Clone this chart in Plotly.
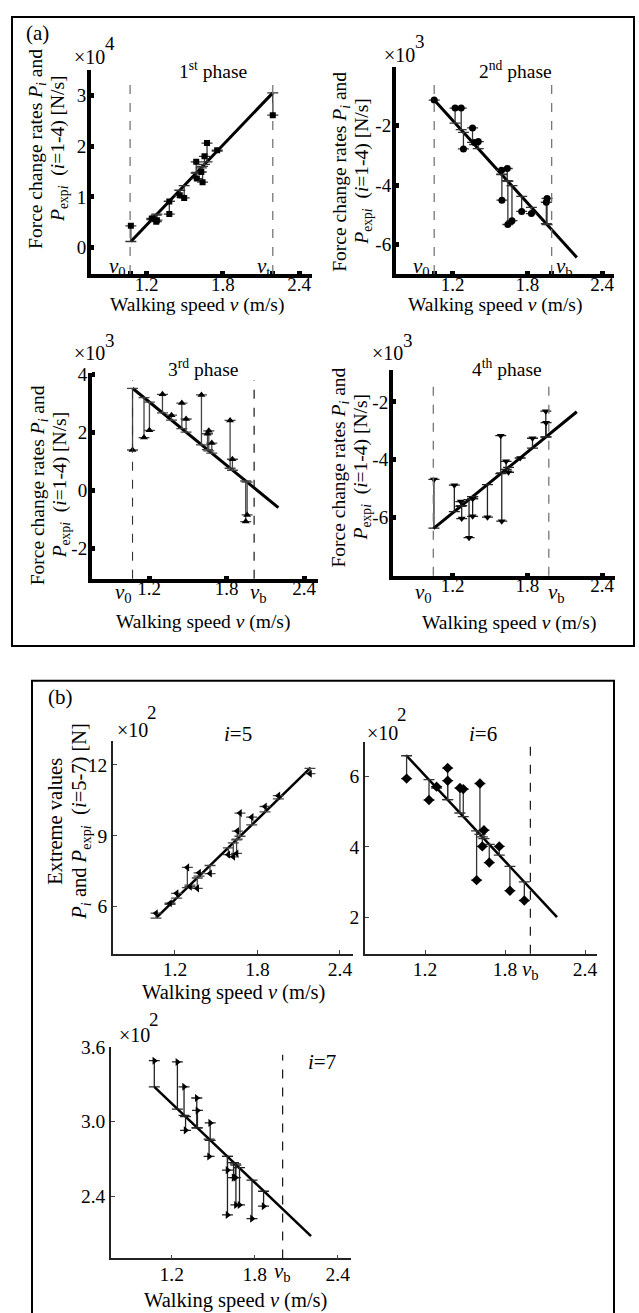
import plotly.graph_objects as go

W, H = 639, 1313
SERIF = "Liberation Serif"


def px(x):
    return x / W


def py(y):
    return 1 - y / H


# ---------------- data ----------------
# (a) 1st phase, values x10^4 N/s
p1_v = [1.075, 1.24, 1.275, 1.28, 1.378, 1.378, 1.46, 1.495, 1.59, 1.595, 1.63, 1.64, 1.655, 1.675, 1.755, 2.193]
p1_exp = [0.43, 0.575, 0.51, 0.54, 0.91, 0.66, 1.03, 0.98, 1.69, 1.36, 1.49, 1.29, 1.80, 2.06, 1.92, 2.61]
p1_model = [0.12, 0.55, 0.64, 0.66, 0.91, 0.91, 1.13, 1.22, 1.47, 1.48, 1.57, 1.60, 1.64, 1.69, 1.90, 3.05]
p1_line_v = [1.075, 2.193]
p1_line_p = [0.12, 3.05]
p1_v0, p1_vt = 1.069, 2.193

# (a) 2nd phase, x10^3 N/s
p2_v = [1.051, 1.219, 1.268, 1.286, 1.359, 1.376, 1.405, 1.592, 1.638, 1.595, 1.643, 1.676, 1.754, 1.832, 1.952, 1.958]
p2_exp = [-1.13, -1.40, -1.40, -2.78, -2.07, -2.56, -2.53, -3.50, -3.44, -4.51, -5.33, -5.20, -4.89, -4.96, -4.58, -4.45]
p2_model = [-1.13, -1.91, -2.13, -2.22, -2.56, -2.63, -2.77, -3.63, -3.85, -3.65, -3.87, -4.02, -4.38, -4.75, -5.30, -5.33]
p2_line_v = [1.051, 2.197]
p2_line_p = [-1.13, -6.44]
p2_v0, p2_vb = 1.051, 1.995

# (a) 3rd phase, x10^3 N/s
p3_v = [1.071, 1.16, 1.202, 1.303, 1.373, 1.453, 1.486, 1.605, 1.662, 1.652, 1.685, 1.827, 1.845, 1.959, 1.948]
p3_exp = [1.39, 1.82, 2.07, 3.31, 2.59, 3.01, 2.46, 3.29, 2.05, 1.95, 1.63, 2.41, 1.07, -0.85, -1.08]
p3_model = [3.52, 3.20, 3.04, 2.67, 2.42, 2.13, 2.01, 1.57, 1.36, 1.40, 1.28, 0.76, 0.69, 0.28, 0.32]
p3_line_v = [1.071, 2.201]
p3_line_p = [3.52, -0.60]
p3_v0, p3_vb = 1.071, 2.013

# (a) 4th phase, x10^3 N/s
p4_v = [1.049, 1.213, 1.265, 1.272, 1.331, 1.36, 1.36, 1.479, 1.586, 1.594, 1.629, 1.648, 1.742, 1.841, 1.948, 1.95]
p4_exp = [-4.69, -4.89, -5.46, -6.05, -6.71, -5.36, -5.97, -6.00, -3.17, -6.14, -4.06, -4.44, -3.95, -3.26, -2.32, -2.72]
p4_model = [-6.38, -5.81, -5.62, -5.60, -5.39, -5.29, -5.29, -4.87, -4.49, -4.46, -4.34, -4.27, -3.94, -3.60, -3.22, -3.21]
p4_line_v = [1.044, 2.197]
p4_line_p = [-6.40, -2.34]
p4_v0, p4_vb = 1.044, 1.972

# (b) i=5, x10^2 N
p5_v = [1.062, 1.164, 1.212, 1.290, 1.309, 1.375, 1.362, 1.455, 1.588, 1.624, 1.648, 1.673, 1.653, 1.758, 1.855, 1.952, 2.182]
p5_exp = [5.72, 6.14, 6.56, 7.66, 6.84, 7.43, 6.77, 7.40, 8.20, 8.11, 8.25, 9.96, 9.20, 9.79, 10.24, 10.70, 11.63]
p5_model = [5.51, 6.09, 6.36, 6.80, 6.91, 7.29, 7.21, 7.74, 8.49, 8.70, 8.83, 8.98, 8.86, 9.46, 10.01, 10.56, 11.86]
p5_line_v = [1.067, 2.187]
p5_line_p = [5.54, 11.89]

# (b) i=6, x10^2 N
p6_v = [1.062, 1.23, 1.287, 1.37, 1.37, 1.462, 1.487, 1.612, 1.587, 1.642, 1.63, 1.682, 1.757, 1.837, 1.945]
p6_exp = [5.94, 5.33, 5.71, 6.24, 5.88, 5.67, 5.64, 5.80, 3.05, 4.47, 4.01, 3.55, 4.01, 2.75, 2.47]
p6_model = [6.59, 5.91, 5.67, 5.34, 5.34, 4.96, 4.86, 4.35, 4.45, 4.23, 4.28, 4.07, 3.76, 3.44, 3.00]
p6_line_v = [1.057, 2.19]
p6_line_p = [6.61, 2.00]
p6_vb = 1.99

# (b) i=7, x10^2 N
p7_v = [1.074, 1.241, 1.289, 1.30, 1.381, 1.386, 1.478, 1.47, 1.603, 1.647, 1.66, 1.603, 1.664, 1.69, 1.78, 1.864]
p7_exp = [3.49, 3.48, 3.28, 2.93, 3.19, 3.09, 2.99, 2.72, 2.61, 2.55, 2.55, 2.25, 2.33, 2.33, 2.22, 2.32]
p7_model = [3.28, 3.10, 3.05, 3.04, 2.95, 2.95, 2.85, 2.86, 2.72, 2.67, 2.66, 2.72, 2.65, 2.63, 2.53, 2.44]
p7_line_v = [1.074, 2.207]
p7_line_p = [3.28, 2.08]
p7_vb = 2.002

x_ticks = [1.2, 1.8, 2.4]
x_ticktext = ["1.2", "1.8", "2.4"]

# ---------------- figure ----------------
fig = go.Figure()


def add_panel(n, v, exp, model, line_v, line_p, symbol, lw, ecolor, msize=7):
    xa = "x" if n == 1 else f"x{n}"
    ya = "y" if n == 1 else f"y{n}"
    up = [max(m - e, 0) for e, m in zip(exp, model)]
    dn = [max(e - m, 0) for e, m in zip(exp, model)]
    fig.add_trace(go.Scatter(x=line_v, y=line_p, mode="lines",
                             line=dict(color="black", width=lw),
                             xaxis=xa, yaxis=ya, hoverinfo="skip"))
    fig.add_trace(go.Scatter(x=v, y=exp, mode="markers",
                             marker=dict(symbol=symbol, size=msize, color="black"),
                             error_y=dict(type="data", symmetric=False, array=up,
                                          arrayminus=dn, color=ecolor,
                                          thickness=1.3, width=5.5),
                             xaxis=xa, yaxis=ya))


add_panel(1, p1_v, p1_exp, p1_model, p1_line_v, p1_line_p, "square", 3, "#333", 6)
add_panel(2, p2_v, p2_exp, p2_model, p2_line_v, p2_line_p, "circle", 3, "#333", 7)
add_panel(3, p3_v, p3_exp, p3_model, p3_line_v, p3_line_p, "triangle-up", 3, "#444", 7)
add_panel(4, p4_v, p4_exp, p4_model, p4_line_v, p4_line_p, "triangle-down", 3, "#222", 7)
add_panel(5, p5_v, p5_exp, p5_model, p5_line_v, p5_line_p, "triangle-left", 2.5, "#444", 7)
add_panel(6, p6_v, p6_exp, p6_model, p6_line_v, p6_line_p, "diamond", 2.5, "#333", 8)
add_panel(7, p7_v, p7_exp, p7_model, p7_line_v, p7_line_p, "triangle-right", 2.5, "#222", 7)


def thick_axes(xdom, ydom, xr, yr, xtv, xtt, ytv, ytt, anchor_x, anchor_y):
    common = dict(showline=True, linewidth=4, linecolor="black",
                  ticks="inside", ticklen=3, tickwidth=5, tickcolor="black",
                  showgrid=False, zeroline=False, fixedrange=True,
                  tickfont=dict(family=SERIF, size=19, color="black"))
    xa = dict(domain=[px(xdom[0]), px(xdom[1])], range=xr, anchor=anchor_y,
              tickvals=xtv, ticktext=xtt, ticklabelstandoff=-10, **common)
    ya = dict(domain=[py(ydom[1]), py(ydom[0])], range=yr, anchor=anchor_x,
              tickvals=ytv, ticktext=ytt, ticklabelstandoff=-3, **common)
    return xa, ya


def thin_axes(xdom, ydom, xr, yr, ytv, ytt, anchor_x, anchor_y):
    common = dict(showline=True, linewidth=1.5, linecolor="#222",
                  ticks="inside", ticklen=4, tickwidth=1.2, tickcolor="#444",
                  showgrid=False, zeroline=False, fixedrange=True,
                  tickfont=dict(family=SERIF, size=19.5, color="black"))
    xa = dict(domain=[px(xdom[0]), px(xdom[1])], range=xr, anchor=anchor_y,
              tickvals=x_ticks, ticktext=x_ticktext, ticklabelstandoff=-3, **common)
    ya = dict(domain=[py(ydom[1]), py(ydom[0])], range=yr, anchor=anchor_x,
              tickvals=ytv, ticktext=ytt, **common)
    return xa, ya


axes = {}
axes["xaxis"], axes["yaxis"] = thick_axes(
    (91, 312), (60, 266), [0.761, 2.502], [-0.52, 3.51],
    [p1_v0, 1.2, 1.8, p1_vt, 2.4], ["", "1.2", "1.8", "", "2.4"],
    [0, 1, 2, 3], ["0", "1", "2", "3"], "x", "y")
axes["xaxis2"], axes["yaxis2"] = thick_axes(
    (396, 614), (57, 266), [0.744, 2.496], [-7.0, 0.0],
    [p2_v0, 1.2, 1.8, p2_vb, 2.4], ["", "1.2", "1.8", "", "2.4"],
    [-6, -4, -2], ["-6", "-4", "-2"], "x2", "y2")
axes["xaxis3"], axes["yaxis3"] = thick_axes(
    (92, 318), (366, 573), [0.757, 2.508], [-3.05, 4.04],
    x_ticks, x_ticktext,
    [-2, 0, 2, 4], ["-2", "0", "2", "4"], "x3", "y3")
axes["xaxis4"], axes["yaxis4"] = thick_axes(
    (393, 615), (363, 570), [0.72, 2.504], [-8.03, -0.9],
    x_ticks, x_ticktext,
    [-6, -4, -2], ["-6", "-4", "-2"], "x4", "y4")
axes["xaxis5"], axes["yaxis5"] = thin_axes(
    (113, 353), (737, 951), [0.749, 2.495], [4.0, 13.0],
    [6, 9, 12], ["6", "9", "12"], "x5", "y5")
axes["xaxis6"], axes["yaxis6"] = thin_axes(
    (365, 597), (738, 951), [0.75, 2.49], [0.955, 6.97],
    [2, 4, 6], ["2", "4", "6"], "x6", "y6")
axes["xaxis7"], axes["yaxis7"] = thin_axes(
    (111, 351), (1045, 1258), [0.761, 2.496], [1.9, 3.6],
    [2.4, 3.0, 3.6], ["2.4", "3.0", "3.6"], "x7", "y7")

# ---------------- shapes ----------------
shapes = [
    dict(type="rect", xref="paper", yref="paper", x0=px(12), x1=px(634), y0=py(641), y1=py(7),
         line=dict(color="black", width=2), fillcolor="rgba(0,0,0,0)"),
    dict(type="rect", xref="paper", yref="paper", x0=px(32), x1=px(614), y0=py(1318), y1=py(676),
         line=dict(color="black", width=2), fillcolor="rgba(0,0,0,0)"),
]


def vline(n, xv, top, color="#777", width=1.3):
    xr = "x" if n == 1 else f"x{n}"
    yr = "y domain" if n == 1 else f"y{n} domain"
    return dict(type="line", xref=xr, yref=yr, x0=xv, x1=xv, y0=0, y1=top,
                line=dict(color=color, width=width, dash="dash"))


shapes += [
    vline(1, p1_v0, 0.966), vline(1, p1_vt, 0.966),
    vline(2, p2_v0, 0.952), vline(2, p2_vb, 0.952),
    vline(3, p3_v0, 0.966, "#333", 1.1), vline(3, p3_vb, 0.966, "black", 1.1),
    vline(4, p4_v0, 0.957), vline(4, p4_vb, 0.957),
    vline(6, p6_vb, 0.983, "black", 1.1),
    vline(7, p7_vb, 0.964, "black", 1.1),
]

# ---------------- annotations ----------------
ann = []


def text(x, y, s, size=18, xanchor="center", yanchor="middle", angle=0, xref="paper", xshift=0):
    ann.append(dict(x=x, y=py(y), xref=xref, yref="paper", text=s, showarrow=False,
                    xanchor=xanchor, yanchor=yanchor, textangle=angle, xshift=xshift,
                    font=dict(family=SERIF, size=size, color="black")))


YA1 = "Force change rates <i>P</i><sub><i>i</i></sub> and"
YA2 = "<i>P</i><sub>exp<i>i</i></sub>\u00a0\u00a0(<i>i</i>=1-4) [N/s]"
YB1 = "Extreme values"
YB2 = "<i>P</i><sub><i>i</i></sub> and <i>P</i><sub>exp<i>i</i></sub>\u00a0\u00a0(<i>i</i>=5-7) [N]"
XT = "Walking speed <i>v</i> (m/s)"

# panel labels
text(px(24), 23, "(a)", 21, xanchor="left")
text(px(46), 692, "(b)", 21, xanchor="left")

# multipliers
for (xl, yc, e, ye) in [(72, 47, "4", 34), (382, 45, "3", 32), (72, 346, "3", 333),
                        (370, 346, "3", 333)]:
    text(px(xl), yc, "\u00d710", 20, xanchor="left")
    text(px(xl + 31), ye, e, 19, xanchor="left")
for (xl, yc, e, ye) in [(115, 726, "2", 708), (365, 729, "2", 710), (117, 1033, "2", 1017)]:
    text(px(xl), yc, "\u00d710", 20, xanchor="left")
    text(px(xl + 30), ye, e, 19, xanchor="left")

# phase titles
text(px(213), 60, "1<sup>st</sup> phase", 19.5)
text(px(515), 60, "2<sup>nd</sup> phase", 19.5)
text(px(203), 361, "3<sup>rd</sup> phase", 19.5)
text(px(507), 361, "4<sup>th</sup> phase", 19.5)
text(px(238), 730, "<i>i</i>=5", 21)
text(px(483), 730, "<i>i</i>=6", 21)
text(px(322), 1060, "<i>i</i>=7", 21)

# y titles (two rotated lines each)
for (xc1, xc2, yc) in [(37, 59, 140), (341, 363, 163), (39, 61, 479), (340, 362, 461)]:
    text(px(xc1), yc, YA1, 19.5, angle=-90)
    text(px(xc2), yc, YA2, 19.5, angle=-90)
text(px(55), 817, YB1, 20.5, angle=-90)
text(px(81), 818, YB2, 20.5, angle=-90)

# x titles
text(px(197), 297, XT, 19.5)
text(px(495), 297, XT, 19.5)
text(px(203), 617, XT, 19.5)
text(px(509), 618, XT, 19.5)
text(px(233), 990, XT, 20.5)
text(px(235), 1300, XT, 20.5)

# v0 / vt / vb labels
V0 = "<i>v</i><sub>0</sub>"
VT = "<i>v</i><sub>t</sub>"
VB = "<i>v</i><sub>b</sub>"
text(p1_v0, 259, V0, 21, xanchor="right", xref="x", xshift=-2)
text(p1_vt, 259, VT, 21, xanchor="right", xref="x", xshift=-1)
text(p2_v0, 259, V0, 21, xanchor="right", xref="x2", xshift=-2)
text(p2_vb, 259, VB, 21, xanchor="left", xref="x2", xshift=2)
text(p3_v0, 587, V0, 21, xanchor="right", xref="x3", xshift=1)
text(p3_vb, 587, VB, 21, xanchor="left", xref="x3", xshift=-6)
text(p4_v0, 587, V0, 21, xanchor="right", xref="x4", xshift=1)
text(p4_vb, 587, VB, 21, xanchor="left", xref="x4", xshift=-3)
text(p6_vb, 967, VB, 21, xanchor="center", xref="x6")
text(p7_vb, 1272, VB, 21, xanchor="center", xref="x7")

fig.update_layout(
    width=W, height=H, autosize=False,
    margin=dict(l=0, r=0, t=0, b=0),
    paper_bgcolor="white", plot_bgcolor="rgba(0,0,0,0)",
    font=dict(family=SERIF),
    showlegend=False, shapes=shapes, annotations=ann,
    **axes,
)

fig.write_html("out.html")
